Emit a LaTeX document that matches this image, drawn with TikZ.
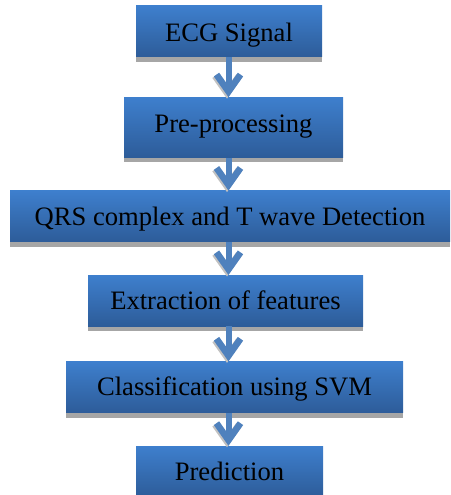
\documentclass[tikz,border=0pt]{standalone}
\usepackage{fontspec}
\setmainfont{Liberation Serif}
\usetikzlibrary{arrows.meta,positioning,shadows}
\definecolor{boxtop}{RGB}{62,127,205}
\definecolor{boxbot}{RGB}{45,92,153}
\definecolor{arrowblue}{RGB}{79,129,189}
\definecolor{shadowgray}{RGB}{166,166,166}
\tikzset{
	x=1pt, y=1pt,
	stage/.style = {rectangle, inner sep=0pt, minimum height=51pt,
		text height=20.5pt, text depth=3pt,
		top color=boxtop, bottom color=boxbot, text=black,
		font=\fontsize{26.6}{30}\selectfont,
		drop shadow={shadow xshift=0pt, shadow yshift=-5pt, fill=shadowgray, opacity=1}},
	flow/.style = {draw=arrowblue, line width=6pt,
		-{Straight Barb[length=17pt, width=24pt, line width=6.5pt]},
		preaction={draw=shadowgray!70, transform canvas={xshift=-1.5pt, yshift=-1.5pt}}}
}
\begin{document}
\begin{tikzpicture}
	\useasboundingbox (0,0) rectangle (450,-495);
	\coordinate (axis) at (228.5,0);
	\node[stage, minimum width=186pt, text height=23pt] (ecg) at (229,-31.5) {ECG Signal};
	\node[stage, minimum width=219pt, minimum height=60pt, text height=14pt] (pre) [below=40pt of ecg, xshift=4.5pt] {Pre-processing};
	\node[stage, minimum width=440pt] (qrs) [below=33pt of pre, xshift=-3.5pt] {QRS complex and T wave Detection};
	\node[stage, minimum width=275pt] (feat) [below=33pt of qrs, xshift=-4.5pt] {Extraction of features};
	\node[stage, minimum width=337pt] (svm) [below=35pt of feat, xshift=9pt] {Classification using SVM};
	\node[stage, minimum width=187pt] (pred) [below=33pt of svm, xshift=-5pt] {Prediction};
	% arrows between the stages
	\draw[flow] (ecg.south -| axis) -- (pre.north -| axis);
	\draw[flow] (pre.south -| axis) -- (qrs.north -| axis);
	\draw[flow] (qrs.south -| axis) -- (feat.north -| axis);
	\draw[flow] (feat.south -| axis) -- (svm.north -| axis);
	\draw[flow] (svm.south -| axis) -- (pred.north -| axis);
\end{tikzpicture}
\end{document}
